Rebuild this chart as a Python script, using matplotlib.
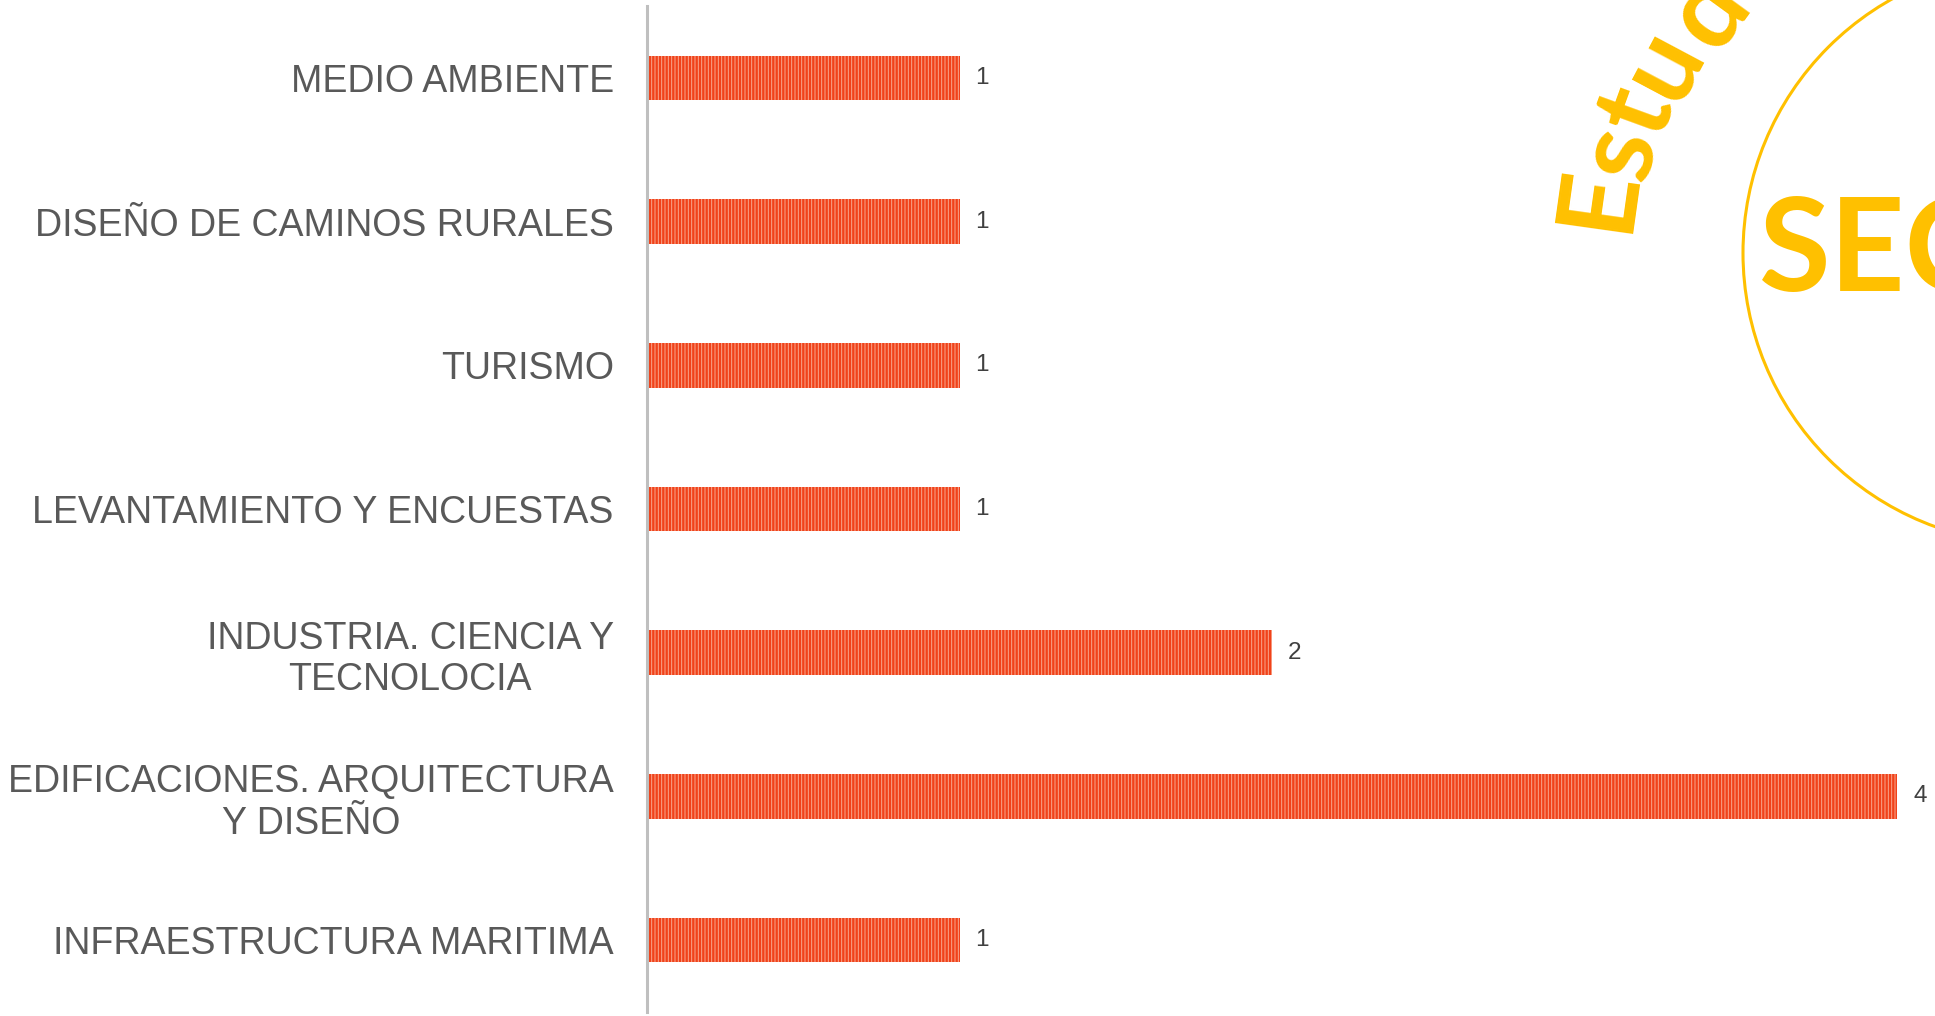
import matplotlib.pyplot as plt

# =========================
# DATA
# =========================
categories = [
    "INFRAESTRUCTURA MARITIMA",
    "EDIFICACIONES. ARQUITECTURA\nY DISEÑO",
    "INDUSTRIA. CIENCIA Y\nTECNOLOCIA",
    "LEVANTAMIENTO Y ENCUESTAS",
    "TURISMO",
    "DISEÑO DE CAMINOS RURALES",
    "MEDIO AMBIENTE",
]
values = [1, 4, 2, 1, 1, 1, 1]

# decoration text (top right logo), letters sitting on an arc
logo_word = "SEC"
arc_letters = ["E", "s", "t", "u", "d"]
arc_pos = [(1630, 203), (1650, 160), (1666, 122), (1691, 78), (1734, 30)]
arc_rot = [82, 76, 70, 62, 54]

W, H = 1935, 1016
plt.rcParams['font.family'] = ['Liberation Sans', 'DejaVu Sans']
plt.rcParams['hatch.linewidth'] = 0.7

fig = plt.figure(figsize=(W / 100, H / 100), dpi=100)
# axes spans from y=6 to y=1012 px (top-left origin)
ax = fig.add_axes([647 / W, 4 / H, (W - 647) / W, 1006 / H])

ypos = list(range(len(categories)))
ax.barh(ypos, values, height=0.31, color="#F0421A",
        edgecolor="#F9A88F", linewidth=0, hatch="|||||")

for y, v in zip(ypos, values):
    ax.annotate(str(v), (v, y), xytext=(16, 0), textcoords="offset pixels",
                va="center", ha="left", fontsize=17.5, color="#404040")

ax.set_xlim(0, (W - 647) / 312.5)
ax.set_ylim(-0.5, len(categories) - 0.5)
ax.set_yticks(ypos)
ax.set_yticklabels(categories, fontsize=27, color="#595959",
                   multialignment="center")
ax.tick_params(axis="y", length=0, pad=24)
ax.set_xticks([])

for s in ["top", "right", "bottom"]:
    ax.spines[s].set_visible(False)
ax.spines["left"].set_color("#BFBFBF")
ax.spines["left"].set_linewidth(2.2)

# =========================
# LOGO DECORATION
# =========================
gold = "#FFC000"
logo_font = ["Lato", "DejaVu Sans"]
circle = plt.Circle((2034 / 100, (H - 253) / 100), 291 / 100,
                    transform=fig.dpi_scale_trans,
                    fill=False, edgecolor=gold, linewidth=2.2)
fig.patches.append(circle)

fig.text(1759 / W, 1 - 291 / H, logo_word, fontsize=94, fontweight="bold",
         color=gold, family=logo_font, ha="left", va="baseline")

for ch, (px, py), rot in zip(arc_letters, arc_pos, arc_rot):
    fig.text(px / W, 1 - py / H, ch, fontsize=79, fontweight="bold", color=gold,
             family=logo_font, rotation=rot,
             rotation_mode="anchor", ha="center", va="baseline")

fig.savefig("out.png", dpi=100)
